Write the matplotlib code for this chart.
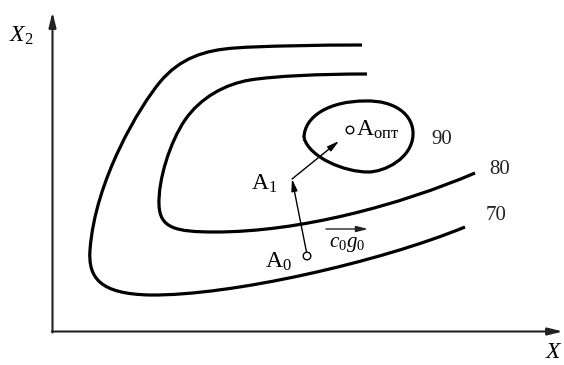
import matplotlib
matplotlib.use("Agg")
import matplotlib.pyplot as plt
from matplotlib.path import Path
from matplotlib.patches import PathPatch, Circle

plt.rcParams['mathtext.fontset'] = 'custom'
plt.rcParams['mathtext.rm'] = 'Liberation Serif'
plt.rcParams['mathtext.it'] = 'Liberation Serif:italic'
plt.rcParams['font.family'] = ['Liberation Serif', 'DejaVu Serif']

# level curves as cubic bezier control points (picture pixel coords, y down)
curve70 = [(362, 45), (320, 45), (260, 46), (235, 48),
           (205, 50), (180, 58), (160, 82),
           (140, 106), (95, 180), (90, 250),
           (88, 278), (100, 294), (150, 295),
           (230, 296), (380, 262), (465, 227)]
curve80 = [(367, 74), (320, 74), (275, 76), (250, 80),
           (225, 84), (200, 98), (185, 120),
           (170, 142), (158, 180), (159, 205),
           (160, 228), (175, 232), (215, 232),
           (300, 232), (400, 205), (475, 173)]
curve90 = [(304, 138), (304, 116), (330, 101), (365, 101),
           (395, 100), (414, 115), (413, 135),
           (412, 158), (385, 172), (368, 172),
           (345, 172), (310, 158), (304, 138)]

levels = ['70', '80', '90']
level_pos = [(496, 216), (500, 170), (442, 139)]

A0 = (307, 256)
A1 = (292, 179)
Aopt = (350, 130)

fig = plt.figure(figsize=(5.64, 3.65), dpi=100)
ax = fig.add_axes([0, 0, 1, 1])
ax.set_xlim(0, 564)
ax.set_ylim(365, 0)
ax.axis('off')


def bezier(pts):
    codes = [Path.MOVETO] + [Path.CURVE4] * (len(pts) - 1)
    return PathPatch(Path(pts, codes), fill=False, lw=2.3, color='black',
                     capstyle='butt', joinstyle='round')


for c in (curve70, curve80, curve90):
    ax.add_patch(bezier(c))

for lab, (x, y) in zip(levels, level_pos):
    ax.text(x, y, lab, fontsize=15, ha='center', va='center', color='#222222')

# coordinate axes
ax.annotate('', xy=(52.5, 12), xytext=(52.5, 332.5),
            arrowprops=dict(arrowstyle='-|>,head_length=0.9,head_width=0.22',
                            lw=1.5, color='#222222', shrinkA=0, shrinkB=0))
ax.annotate('', xy=(563, 331.5), xytext=(51.8, 331.5),
            arrowprops=dict(arrowstyle='-|>,head_length=0.9,head_width=0.22',
                            lw=1.5, color='#222222', shrinkA=0, shrinkB=0))
ax.text(9, 36, r'$X_2$', fontsize=17, ha='left', va='center')
ax.text(545, 353, r'$X$', fontsize=17, ha='left', va='center')

# search path
arrow_kw = dict(arrowstyle='-|>,head_length=0.7,head_width=0.18', lw=1.0,
                color='black', shrinkA=0, shrinkB=0)
ax.annotate('', xy=A1, xytext=(A0[0] - 0.5, A0[1] - 4), arrowprops=arrow_kw)
ax.annotate('', xy=(339, 141), xytext=A1, arrowprops=arrow_kw)
for p in (A0, Aopt):
    ax.add_patch(Circle(p, 3.8, fill=False, lw=1.0, color='black'))

ax.text(265, 262, r'$\mathrm{A}_0$', fontsize=17, ha='left', va='center')
ax.text(251, 184, r'$\mathrm{A}_\mathrm{1}$', fontsize=17, ha='left', va='center')
ax.text(356, 130, r'$\mathrm{A}_{\mathrm{опт}}$', fontsize=17, ha='left', va='center')

# gradient vector c0g0
ax.annotate('', xy=(368, 229), xytext=(326, 229),
            arrowprops=dict(arrowstyle='-|>,head_length=0.7,head_width=0.18',
                            lw=1.0, color='#222222', shrinkA=0, shrinkB=0))
ax.text(347, 245, r'$c_0 g_0$', fontsize=15, ha='center', va='center')

fig.savefig('out.png', dpi=100)
